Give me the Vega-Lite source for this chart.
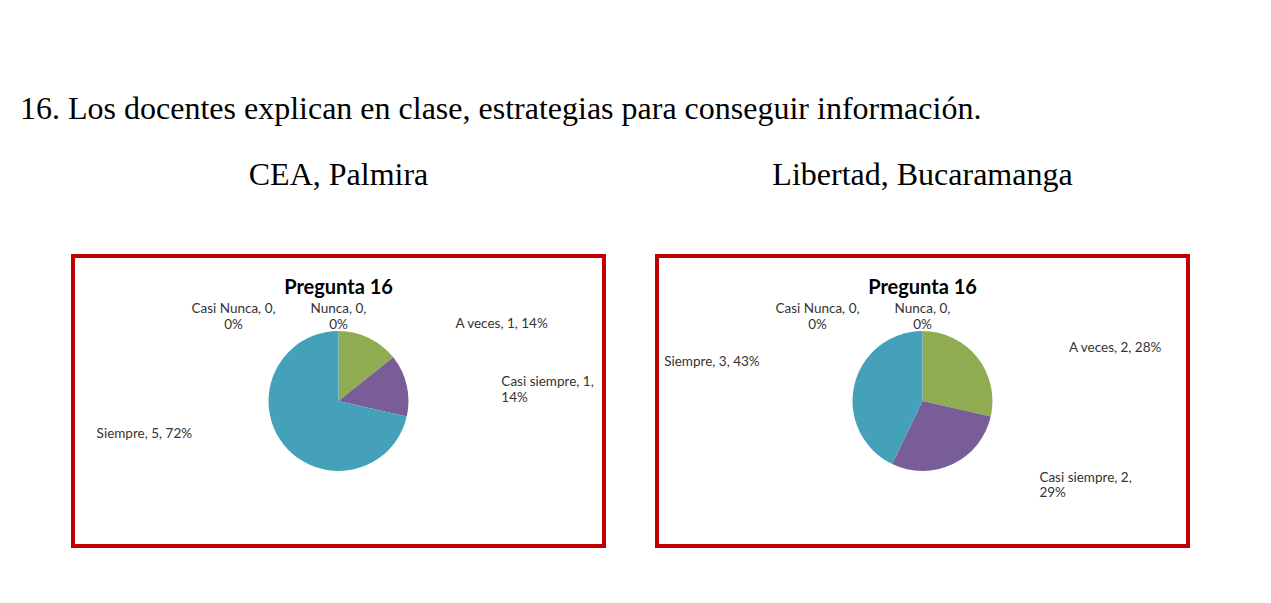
{
  "$schema": "https://vega.github.io/schema/vega-lite/v6.json",
  "background": "white",
  "autosize": {"type": "pad"},
  "padding": {"left": 20, "top": 93, "right": 0, "bottom": 0},
  "title": {
    "text": "16. Los docentes explican en clase, estrategias para conseguir información.",
    "font": "Liberation Serif",
    "fontSize": 32,
    "fontWeight": "normal",
    "color": "black",
    "anchor": "start",
    "dx": -51,
    "offset": 33
  },
  "data": {
    "values": [
      {"panel": "CEA, Palmira", "categoria": "Nunca", "nivel": 1, "n": 0, "pct": 0, "etiqueta": "Nunca, 0,\n0%"},
      {"panel": "CEA, Palmira", "categoria": "Casi Nunca", "nivel": 2, "n": 0, "pct": 0, "etiqueta": "Casi Nunca, 0,\n0%"},
      {"panel": "CEA, Palmira", "categoria": "A veces", "nivel": 3, "n": 1, "pct": 14, "etiqueta": "A veces, 1, 14%"},
      {"panel": "CEA, Palmira", "categoria": "Casi siempre", "nivel": 4, "n": 1, "pct": 14, "etiqueta": "Casi siempre, 1,\n14%"},
      {"panel": "CEA, Palmira", "categoria": "Siempre", "nivel": 5, "n": 5, "pct": 72, "etiqueta": "Siempre, 5, 72%"},
      {"panel": "Libertad, Bucaramanga", "categoria": "Nunca", "nivel": 1, "n": 0, "pct": 0, "etiqueta": "Nunca, 0,\n0%"},
      {"panel": "Libertad, Bucaramanga", "categoria": "Casi Nunca", "nivel": 2, "n": 0, "pct": 0, "etiqueta": "Casi Nunca, 0,\n0%"},
      {"panel": "Libertad, Bucaramanga", "categoria": "A veces", "nivel": 3, "n": 2, "pct": 28, "etiqueta": "A veces, 2, 28%"},
      {"panel": "Libertad, Bucaramanga", "categoria": "Casi siempre", "nivel": 4, "n": 2, "pct": 29, "etiqueta": "Casi siempre, 2,\n29%"},
      {"panel": "Libertad, Bucaramanga", "categoria": "Siempre", "nivel": 5, "n": 3, "pct": 43, "etiqueta": "Siempre, 3, 43%"}
    ]
  },
  "facet": {
    "column": {
      "field": "panel",
      "type": "nominal",
      "sort": ["CEA, Palmira", "Libertad, Bucaramanga"],
      "header": {
        "title": null,
        "labelFont": "Liberation Serif",
        "labelFontSize": 32,
        "labelColor": "black",
        "labelPadding": 62
      }
    }
  },
  "spacing": 49,
  "spec": {
    "width": 531,
    "height": 290,
    "view": {"stroke": "#C00000", "strokeWidth": 4},
    "title": {
      "text": "Pregunta 16",
      "font": "Lato",
      "fontSize": 20,
      "fontWeight": "bold",
      "color": "black",
      "anchor": "middle",
      "baseline": "alphabetic",
      "offset": -58
    },
    "layer": [
      {
        "mark": {"type": "arc", "outerRadius": 70, "stroke": null},
        "encoding": {
          "theta": {"field": "n", "type": "quantitative", "stack": true},
          "order": {"field": "nivel", "type": "quantitative"},
          "color": {
            "field": "categoria",
            "type": "nominal",
            "scale": {
              "domain": ["Nunca", "Casi Nunca", "A veces", "Casi siempre", "Siempre"],
              "range": ["#4F81BD", "#C0504D", "#8FAC52", "#785D98", "#45A1BA"]
            },
            "legend": null
          }
        }
      },
      {
        "mark": {"type": "text", "radius": 85, "align": "center", "baseline": "bottom", "lineBreak": "\n", "font": "Lato", "fontSize": 13.5, "color": "#333333"},
        "encoding": {
          "theta": {"field": "n", "type": "quantitative", "stack": true},
          "order": {"field": "nivel", "type": "quantitative"},
          "text": {"condition": {"test": "datum.categoria === 'Nunca'", "field": "etiqueta"}, "value": ""}
        }
      },
      {
        "mark": {"type": "text", "radius": 85, "dx": -105, "align": "center", "baseline": "bottom", "lineBreak": "\n", "font": "Lato", "fontSize": 13.5, "color": "#333333"},
        "encoding": {
          "theta": {"field": "n", "type": "quantitative", "stack": true},
          "order": {"field": "nivel", "type": "quantitative"},
          "text": {"condition": {"test": "datum.categoria === 'Casi Nunca'", "field": "etiqueta"}, "value": ""}
        }
      },
      {
        "mark": {"type": "text", "radius": 85, "dx": 80, "align": "left", "baseline": "middle", "lineBreak": "\n", "font": "Lato", "fontSize": 13.5, "color": "#333333"},
        "encoding": {
          "theta": {"field": "n", "type": "quantitative", "stack": true},
          "order": {"field": "nivel", "type": "quantitative"},
          "text": {"condition": {"test": "datum.categoria === 'A veces' || datum.categoria === 'Casi siempre'", "field": "etiqueta"}, "value": ""}
        }
      },
      {
        "mark": {"type": "text", "radius": 85, "dx": -80, "dy": -20, "align": "right", "baseline": "middle", "lineBreak": "\n", "font": "Lato", "fontSize": 13.5, "color": "#333333"},
        "encoding": {
          "theta": {"field": "n", "type": "quantitative", "stack": true},
          "order": {"field": "nivel", "type": "quantitative"},
          "text": {"condition": {"test": "datum.categoria === 'Siempre'", "field": "etiqueta"}, "value": ""}
        }
      }
    ]
  },
  "config": {
    "view": {"stroke": "#C00000", "strokeWidth": 4}
  }
}
